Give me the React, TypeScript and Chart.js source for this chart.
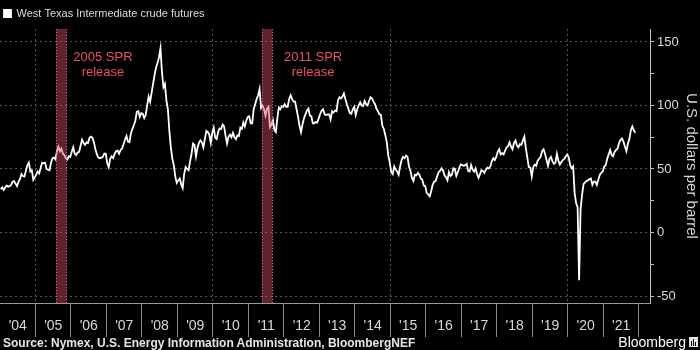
import React, { useEffect, useRef } from "react";
import { Chart, registerables } from "chart.js";

Chart.register(...registerables);

const FONT = "'Liberation Sans', Arial, sans-serif";

// WTI front-month price, two readings per month (first half, second half), US$/bbl
const wti2004 = [34.0, 35.5, 33.5, 35.5, 37.0, 36.0, 36.5, 37.5, 40.0, 40.5, 38.5, 36.5, 40.0, 42.0, 46.0, 44.5, 44.0, 48.5, 53.0, 55.0, 48.0, 49.0, 41.5, 43.5];
const wti2005 = [45.5, 48.0, 46.5, 51.0, 55.0, 54.5, 55.0, 50.0, 49.5, 49.0, 55.0, 58.5, 59.0, 57.5, 64.0, 67.5, 64.0, 66.0, 62.0, 61.0, 58.5, 57.5, 60.0, 59.5];
const wti2006 = [63.5, 67.0, 62.0, 61.0, 63.0, 63.5, 68.5, 73.0, 70.5, 69.0, 71.0, 70.5, 74.5, 75.5, 74.5, 71.0, 65.5, 61.5, 59.0, 58.5, 59.0, 59.5, 62.0, 62.0];
const wti2007 = [54.5, 51.5, 58.0, 60.0, 58.5, 62.0, 64.0, 64.5, 62.0, 65.0, 66.0, 69.5, 73.0, 76.0, 71.5, 71.0, 78.0, 81.5, 84.5, 88.0, 95.0, 95.5, 91.0, 94.0];
const wti2008 = [93.5, 90.0, 92.5, 100.0, 107.0, 103.0, 110.0, 117.0, 124.0, 130.0, 133.5, 138.0, 145.0, 126.0, 114.5, 117.0, 104.0, 97.0, 80.0, 67.0, 58.0, 53.0, 44.0, 39.0];
const wti2009 = [41.0, 42.5, 38.0, 35.0, 46.0, 51.5, 50.0, 49.0, 56.0, 62.0, 70.0, 69.0, 60.0, 66.5, 70.5, 72.5, 71.0, 67.0, 73.5, 80.0, 79.0, 77.0, 70.5, 78.5];
const wti2010 = [82.5, 74.5, 73.5, 79.5, 82.0, 81.5, 85.0, 83.5, 76.0, 70.0, 75.5, 77.0, 75.0, 78.5, 75.0, 73.5, 76.5, 76.0, 82.5, 81.5, 86.5, 83.5, 88.0, 91.0];
const wti2011 = [91.5, 86.0, 86.0, 97.0, 101.0, 105.0, 108.0, 113.0, 98.0, 100.0, 97.0, 92.0, 97.5, 99.0, 83.0, 85.0, 88.5, 80.5, 79.0, 90.0, 98.5, 97.0, 99.5, 99.0];
const wti2012 = [101.0, 99.0, 99.0, 105.0, 108.0, 105.0, 103.0, 103.0, 97.0, 91.0, 84.0, 79.0, 85.0, 90.0, 93.0, 96.0, 97.5, 92.0, 91.5, 86.0, 86.0, 87.0, 86.5, 90.0];
const wti2013 = [93.5, 96.0, 97.0, 93.0, 92.5, 93.0, 93.0, 89.0, 95.5, 94.5, 96.0, 95.5, 104.0, 106.5, 105.5, 107.0, 109.5, 105.0, 101.0, 97.5, 94.0, 93.5, 97.0, 99.0];
const wti2014 = [92.5, 97.0, 100.0, 102.5, 100.0, 99.5, 103.5, 101.0, 100.0, 103.5, 106.5, 105.5, 103.0, 101.0, 97.5, 95.5, 93.0, 92.5, 84.0, 81.5, 76.5, 71.0, 60.5, 55.0];
const wti2015 = [47.5, 46.0, 52.0, 49.5, 48.0, 45.5, 52.0, 57.0, 59.5, 58.5, 60.5, 59.5, 52.0, 48.5, 43.0, 40.5, 45.5, 45.0, 47.0, 45.5, 42.5, 41.5, 37.0, 36.5];
const wti2016 = [31.0, 30.0, 28.5, 32.5, 37.5, 40.0, 40.5, 44.0, 47.5, 48.5, 50.5, 49.0, 45.0, 43.5, 41.0, 47.5, 44.5, 45.5, 50.5, 50.0, 44.5, 47.5, 51.0, 53.5];
const wti2017 = [53.0, 52.5, 53.0, 54.0, 48.5, 48.0, 53.0, 49.5, 48.0, 50.5, 46.0, 43.0, 46.0, 49.0, 48.5, 47.0, 49.5, 51.0, 50.5, 52.0, 56.0, 58.5, 57.0, 59.5];
const wti2018 = [63.5, 65.5, 61.5, 62.5, 61.5, 64.5, 67.0, 68.0, 71.0, 67.5, 65.5, 70.5, 72.5, 68.5, 67.0, 69.5, 69.0, 72.5, 75.5, 66.5, 59.0, 51.5, 51.0, 44.0];
const wti2019 = [51.5, 53.5, 52.5, 56.5, 58.0, 59.5, 64.0, 65.5, 62.0, 57.0, 52.5, 58.0, 59.5, 56.0, 54.0, 55.0, 62.0, 56.5, 53.5, 55.5, 57.0, 58.0, 60.0, 61.5];
const wti2020 = [59.0, 53.0, 50.5, 52.0, 31.0, 23.0, 20.0, -37.6, 18.0, 29.5, 38.0, 39.5, 40.5, 41.0, 42.0, 42.5, 37.5, 40.0, 40.0, 37.5, 41.5, 45.5, 47.0, 48.0];
const wti2021 = [52.0, 53.0, 58.0, 61.5, 65.0, 61.0, 60.0, 63.5, 65.0, 66.0, 70.5, 73.0, 74.0, 71.5, 67.5, 64.0, 70.0, 73.5, 80.5, 83.5, 80.5, 78.5];

const seriesYears = [2004, 2005, 2006, 2007, 2008, 2009, 2010, 2011, 2012, 2013, 2014, 2015, 2016, 2017, 2018, 2019, 2020, 2021];
const seriesValues = [wti2004, wti2005, wti2006, wti2007, wti2008, wti2009, wti2010, wti2011, wti2012, wti2013, wti2014, wti2015, wti2016, wti2017, wti2018, wti2019, wti2020, wti2021];

const yearTicks = [2004, 2005, 2006, 2007, 2008, 2009, 2010, 2011, 2012, 2013, 2014, 2015, 2016, 2017, 2018, 2019, 2020, 2021, 2022];
const yTicks = [-50, -25, 0, 25, 50, 75, 100, 125, 150];

const sprStarts = [2005.58, 2011.38];
const sprEnds = [2005.88, 2011.68];
const sprLabelX = [2006.9, 2012.82];
const sprLabelLine1 = ["2005 SPR", "2011 SPR"];
const sprLabelLine2 = ["release", "release"];
const sprLabelY1 = 138;
const sprLabelY2 = 126;

const seriesLabel = "West Texas Intermediate crude futures";
const yTitle = "U.S. dollars per barrel";
const sourceText = "Source: Nymex, U.S. Energy Information Administration, BloombergNEF";

const sprPlugin = {
  id: "sprBands",
  afterDatasetsDraw(chart: any) {
    const { ctx, chartArea, scales } = chart;
    const x = scales.x;
    const y = scales.y;
    ctx.save();
    for (let i = 0; i < sprStarts.length; i++) {
      const x1 = x.getPixelForValue(sprStarts[i]);
      const x2 = x.getPixelForValue(sprEnds[i]);
      ctx.fillStyle = "rgba(215,75,105,0.45)";
      ctx.fillRect(x1, chartArea.top, x2 - x1, chartArea.bottom - chartArea.top);
      ctx.strokeStyle = "rgba(230,110,140,0.9)";
      ctx.lineWidth = 1;
      ctx.setLineDash([1, 2]);
      ctx.beginPath();
      ctx.moveTo(Math.round(x1) + 0.5, chartArea.top);
      ctx.lineTo(Math.round(x1) + 0.5, chartArea.bottom);
      ctx.moveTo(Math.round(x2) - 0.5, chartArea.top);
      ctx.lineTo(Math.round(x2) - 0.5, chartArea.bottom);
      ctx.stroke();
      ctx.setLineDash([]);
      ctx.fillStyle = "#e8506a";
      ctx.font = "13px " + FONT;
      ctx.textAlign = "center";
      ctx.textBaseline = "middle";
      const lx = x.getPixelForValue(sprLabelX[i]);
      ctx.fillText(sprLabelLine1[i], lx, y.getPixelForValue(sprLabelY1));
      ctx.fillText(sprLabelLine2[i], lx, y.getPixelForValue(sprLabelY2));
    }
    ctx.restore();
  },
};

export default function App() {
  const ref = useRef<HTMLCanvasElement | null>(null);

  useEffect(() => {
    const canvas = ref.current;
    if (!canvas) return;
    const points: { x: number; y: number }[] = [];
    seriesYears.forEach((yr, k) => {
      const vals = seriesValues[k];
      vals.forEach((v, i) => points.push({ x: yr + (i + 0.5) / 24, y: v }));
    });

    Chart.defaults.font.family = FONT;

    const chart = new Chart(canvas, {
      type: "line",
      data: {
        datasets: [
          {
            label: seriesLabel,
            data: points,
            borderColor: "#ffffff",
            backgroundColor: "#ffffff",
            borderWidth: 1.8,
            pointRadius: 0,
            tension: 0,
          },
        ],
      },
      options: {
        animation: false,
        responsive: false,
        maintainAspectRatio: false,
        layout: { autoPadding: false, padding: { top: 4, left: 0, right: 0, bottom: 0 } },
        plugins: {
          legend: {
            position: "top",
            align: "start",
            labels: {
              color: "#dddddd",
              font: { family: FONT, size: 11 },
              boxWidth: 7,
              boxHeight: 7,
              padding: 4,
            },
          },
          tooltip: { enabled: false },
        },
        scales: {
          x: {
            type: "linear",
            min: 2004,
            max: 2022.31,
            afterBuildTicks: (s: any) => {
              s.ticks = yearTicks.map((v) => ({ value: v }));
            },
            afterFit: (s: any) => {
              s.height = 47;
              s.paddingLeft = 0;
              s.paddingRight = 0;
            },
            grid: {
              color: (c: any) => (c.tick && c.tick.value % 5 === 0 && c.tick.value !== 2004 ? "#555555" : "transparent"),
              tickColor: (c: any) => (c.tick && c.tick.value === 2004 ? "transparent" : "#8a8a8a"),
              tickLength: 34,
              lineWidth: 1,
            },
            border: { display: true, color: "#9a9a9a", dash: [2, 3] },
            ticks: {
              color: "#d9d9d9",
              font: { family: FONT, size: 14 },
              labelOffset: 17.75,
              padding: -19,
              maxRotation: 0,
              autoSkip: false,
              callback: (v: any) => (v >= 2022 ? "" : "'" + String(v).slice(2)),
            },
          },
          y: {
            position: "right",
            min: -55.5,
            max: 160.2,
            afterBuildTicks: (s: any) => {
              s.ticks = yTicks.map((v) => ({ value: v }));
            },
            afterFit: (s: any) => {
              s.width = 50;
              s.paddingTop = 0;
              s.paddingBottom = 0;
            },
            grid: {
              color: (c: any) => (c.tick && c.tick.value % 50 === 0 ? "#555555" : "transparent"),
              tickColor: "#bbbbbb",
              tickLength: 4,
              lineWidth: 1,
            },
            border: { display: true, color: "#bbbbbb", dash: [2, 3] },
            ticks: {
              color: "#d9d9d9",
              font: { family: FONT, size: 13 },
              padding: 3,
              callback: (v: any) => (v % 50 === 0 ? String(v) : ""),
            },
            title: {
              display: true,
              text: yTitle,
              color: "#d9d9d9",
              font: { family: FONT, size: 15 },
              padding: 0,
            },
          },
        },
      },
      plugins: [sprPlugin],
    });
    return () => chart.destroy();
  }, []);

  return (
    <div style={{ position: "absolute", left: 0, top: 0, width: 700, height: 350, background: "#000", overflow: "hidden" }}>
      <canvas ref={ref} width={700} height={350} style={{ position: "absolute", left: 0, top: 0, width: 700, height: 350 }} />
      <div
        style={{
          position: "absolute",
          left: 3,
          top: 336,
          fontFamily: FONT,
          fontSize: 12,
          lineHeight: "14px",
          fontWeight: "bold",
          color: "#e6e6e6",
          whiteSpace: "nowrap",
        }}
      >
        {sourceText}
      </div>
      <div
        style={{
          position: "absolute",
          right: 14,
          top: 334,
          fontFamily: FONT,
          fontSize: 14,
          lineHeight: "16px",
          color: "#ffffff",
          whiteSpace: "nowrap",
        }}
      >
        Bloomberg
      </div>
      <div style={{ position: "absolute", left: 689, top: 337, width: 9, height: 10, background: "#e6e6e6" }}>
        <div style={{ position: "absolute", left: 2, top: 4, width: 1, height: 5, background: "#000" }} />
        <div style={{ position: "absolute", left: 4, top: 2, width: 1, height: 7, background: "#000" }} />
        <div style={{ position: "absolute", left: 6, top: 5, width: 1, height: 4, background: "#000" }} />
      </div>
    </div>
  );
}
